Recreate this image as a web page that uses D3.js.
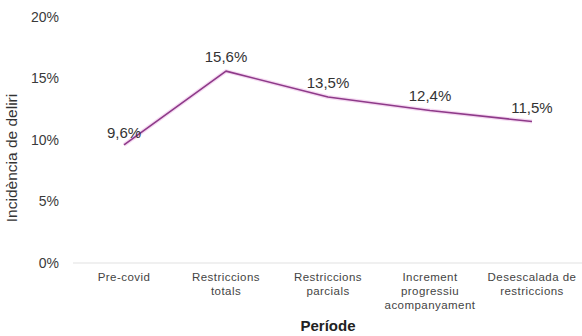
<!DOCTYPE html>
<html>
<head>
<meta charset="utf-8">
<script src="https://cdn.jsdelivr.net/npm/d3@7"></script>
<style>
  html, body { margin: 0; padding: 0; background: #fff; }
  svg { display: block; font-family: "Liberation Sans", Arial, sans-serif; }
</style>
</head>
<body>
<svg id="chart" width="582" height="336"></svg>
<script>
// Incidence of delirium by pandemic period
const periods = [
  ["Pre-covid"],
  ["Restriccions", "totals"],
  ["Restriccions", "parcials"],
  ["Increment", "progressiu", "acompanyament"],
  ["Desescalada de", "restriccions"]
];
const incidence = [9.6, 15.6, 13.5, 12.4, 11.5];
const yTicks = [0, 5, 10, 15, 20];

const svg = d3.select("#chart");
const plotLeft = 73, plotRight = 583, plotTop = 17, plotBottom = 263;

const x = d3.scaleBand().domain(d3.range(periods.length)).range([plotLeft, plotRight]).padding(0);
const y = d3.scaleLinear().domain([0, 20]).range([plotBottom, plotTop]);

// baseline
svg.append("line")
  .attr("x1", plotLeft).attr("x2", plotRight)
  .attr("y1", y(0)).attr("y2", y(0))
  .attr("stroke", "#e2e2e2").attr("stroke-width", 1.2);

// y axis tick labels
const yAxis = d3.axisLeft(y).tickValues(yTicks).tickFormat(d => d + "%").tickSize(0).tickPadding(0);
const gy = svg.append("g").attr("transform", `translate(${plotLeft - 14},0)`).call(yAxis);
gy.select(".domain").remove();
gy.selectAll("text")
  .attr("font-size", 14).attr("fill", "#3a3a3a")
  .attr("font-family", "Liberation Sans, Arial, sans-serif");

// x category labels
const xAxis = d3.axisBottom(x).tickSize(0).tickFormat("");
const gx = svg.append("g").attr("transform", `translate(0,${plotBottom})`).call(xAxis);
gx.select(".domain").remove();
gx.selectAll(".tick").each(function(d) {
  const t = d3.select(this).append("text")
    .attr("text-anchor", "middle")
    .attr("font-size", 11.5).attr("letter-spacing", 0.45).attr("fill", "#444")
    .attr("font-family", "Liberation Sans, Arial, sans-serif");
  periods[d].forEach((ln, i) => {
    t.append("tspan").attr("x", 0).attr("y", 18 + i * 14).text(ln);
  });
});

// line
const line = d3.line()
  .x((d, i) => x(i) + x.bandwidth() / 2)
  .y(d => y(d));

svg.append("path").datum(incidence)
  .attr("d", line).attr("fill", "none")
  .attr("stroke", "#efc2ea").attr("stroke-width", 4).attr("stroke-opacity", 0.6)
  .attr("stroke-linejoin", "round");
svg.append("path").datum(incidence)
  .attr("d", line).attr("fill", "none")
  .attr("stroke", "#8e3a89").attr("stroke-width", 1.6)
  .attr("stroke-linejoin", "round");

// value labels
svg.append("g").selectAll("text").data(incidence).join("text")
  .attr("x", (d, i) => x(i) + x.bandwidth() / 2)
  .attr("y", (d, i) => y(d) - (i === 0 ? 7 : 9))
  .attr("text-anchor", "middle")
  .attr("font-size", 15).attr("fill", "#333")
  .text(d => d.toFixed(1).replace(".", ",") + "%");

// axis titles
svg.append("text")
  .attr("transform", `translate(17,${(plotTop + plotBottom) / 2 + 18}) rotate(-90)`)
  .attr("text-anchor", "middle")
  .attr("font-size", 15.5).attr("fill", "#333")
  .text("Incidència de deliri");

svg.append("text")
  .attr("x", (plotLeft + plotRight) / 2).attr("y", 331)
  .attr("text-anchor", "middle")
  .attr("font-size", 15).attr("font-weight", "bold").attr("fill", "#222")
  .text("Període");
</script>
</body>
</html>
